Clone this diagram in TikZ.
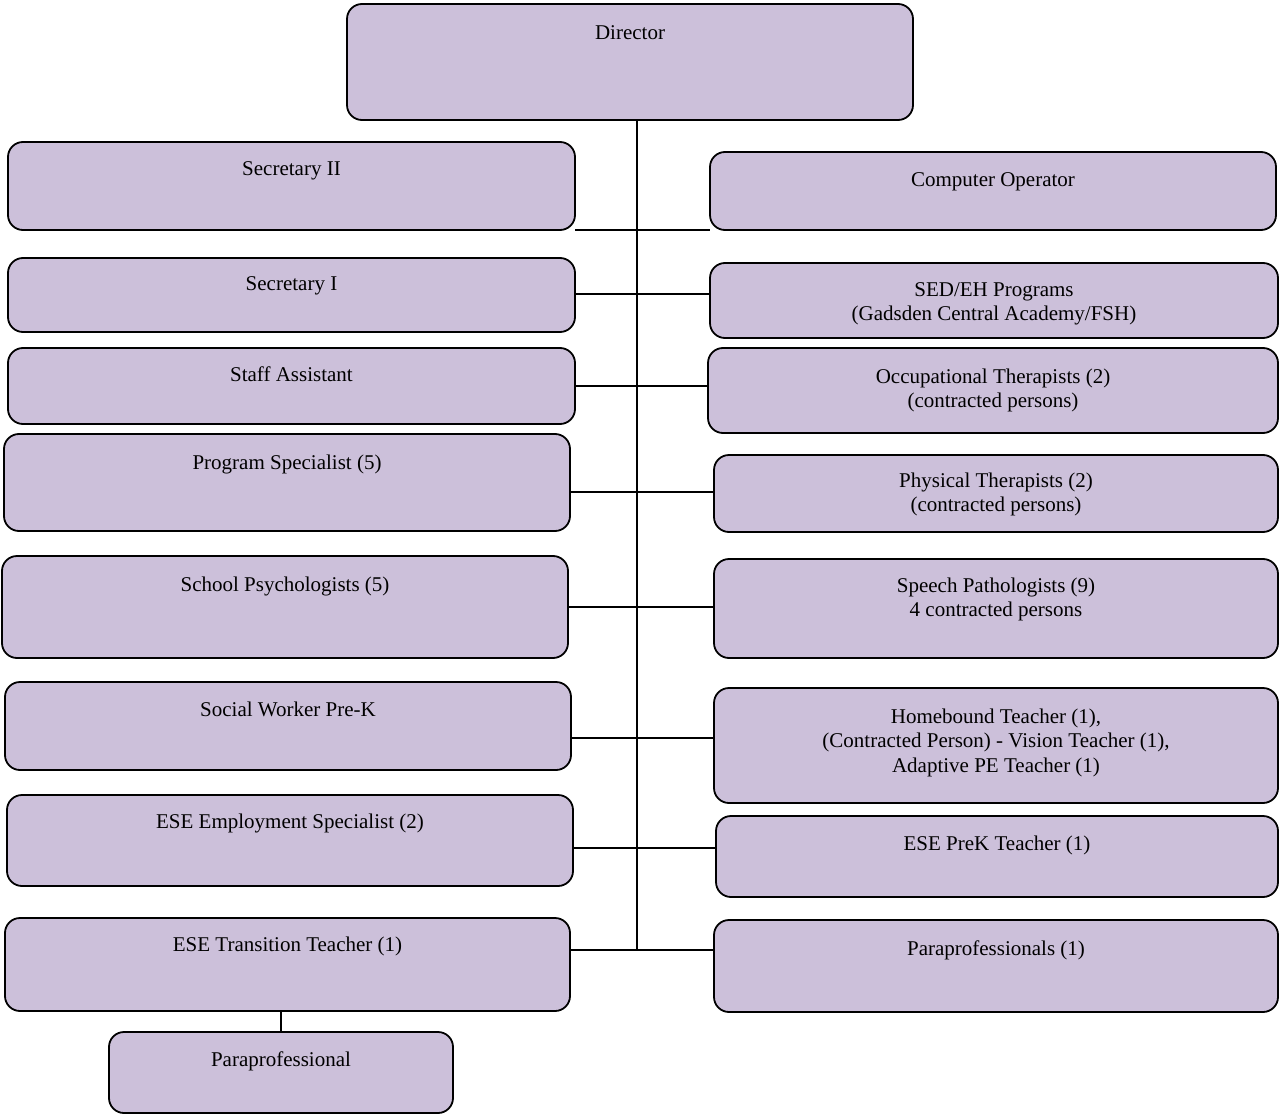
\documentclass[tikz,border=0pt]{standalone}
\usepackage{fontspec}
\setmainfont{Liberation Serif}
\definecolor{boxfill}{RGB}{204,192,218}
\begin{document}
\begin{tikzpicture}[x=1pt,y=-1pt,
  orgbox/.style={draw=black, line width=1.8pt, fill=boxfill, rounded corners=15pt, inner sep=0pt, outer sep=0pt},
  orgtext/.style={anchor=north, inner sep=0pt, align=center, font=\fontsize{21}{24.5}\selectfont},
  link/.style={draw=black, line width=1.6pt}]
\useasboundingbox (0,0) rectangle (1279,1115);
\newcommand\orgnode[7]{%
  \node[orgbox, minimum width={(#4-#2)*1pt}, minimum height={(#5-#3)*1pt}] (#1) at ({(#2+#4)/2},{(#3+#5)/2}) {};
  \node[orgtext] (#1t) at ({(#2+#4)/2},{#6-10}) {\strut #7};}
\orgnode{dir}{347}{4}{913}{120}{32}{Director}
\orgnode{sec2}{8}{142}{575}{230}{168}{Secretary II}
\orgnode{comp}{710}{152}{1276}{230}{179}{Computer Operator}
\orgnode{sec1}{8}{258}{575}{332}{283}{Secretary I}
\orgnode{sed}{710}{263}{1278}{338}{289}{SED/EH Programs\\(Gadsden Central Academy/FSH)}
\orgnode{staff}{8}{348}{575}{424}{374}{Staff Assistant}
\orgnode{occ}{708}{348}{1278}{433}{376}{Occupational Therapists (2)\\(contracted persons)}
\orgnode{prog}{4}{434}{570}{531}{462}{Program Specialist (5)}
\orgnode{phys}{714}{455}{1278}{532}{480}{Physical Therapists (2)\\(contracted persons)}
\orgnode{psych}{2}{556}{568}{658}{584}{School Psychologists (5)}
\orgnode{speech}{714}{559}{1278}{658}{585}{Speech Pathologists (9)\\4 contracted persons}
\orgnode{social}{5}{682}{571}{770}{709}{Social Worker Pre-K}
\orgnode{home}{714}{688}{1278}{803}{716}{Homebound Teacher (1),\\(Contracted Person) - Vision Teacher (1),\\Adaptive PE Teacher (1)}
\orgnode{emp}{7}{795}{573}{886}{821}{ESE Employment Specialist (2)}
\orgnode{prek}{716}{816}{1278}{897}{843}{ESE PreK Teacher (1)}
\orgnode{trans}{5}{918}{570}{1011}{944}{ESE Transition Teacher (1)}
\orgnode{paras}{714}{920}{1278}{1012}{948}{Paraprofessionals (1)}
\orgnode{para}{109}{1032}{453}{1113}{1059}{Paraprofessional}
% trunk
\coordinate (tb) at (637,950);
\draw[link] (dir.south -| tb) -- (tb);
% level coordinates
\coordinate (l1) at (637,230);
\coordinate (l2) at (637,294);
\coordinate (l3) at (637,386);
\coordinate (l4) at (637,492);
\coordinate (l5) at (637,607);
\coordinate (l6) at (637,738);
\coordinate (l7) at (637,848);
\coordinate (l8) at (637,950);
\draw[link] (sec2.east |- l1) -- (comp.west |- l1);
\draw[link] (sec1.east |- l2) -- (sed.west |- l2);
\draw[link] (staff.east |- l3) -- (occ.west |- l3);
\draw[link] (prog.east |- l4) -- (phys.west |- l4);
\draw[link] (psych.east |- l5) -- (speech.west |- l5);
\draw[link] (social.east |- l6) -- (home.west |- l6);
\draw[link] (emp.east |- l7) -- (prek.west |- l7);
\draw[link] (trans.east |- l8) -- (paras.west |- l8);
\draw[link] (trans.south -| para.north) -- (para.north);
\end{tikzpicture}
\end{document}
